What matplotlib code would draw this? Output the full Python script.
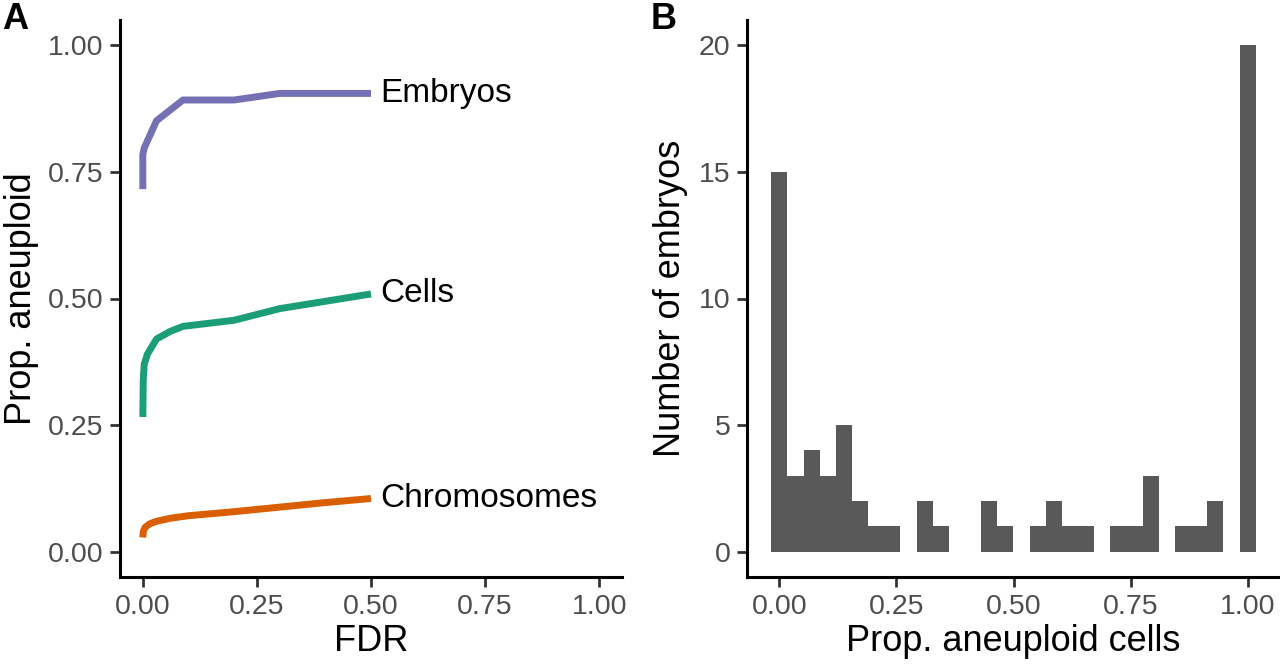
import numpy as np
import matplotlib
matplotlib.use("Agg")
import matplotlib.pyplot as plt

plt.rcParams['font.family'] = ['Liberation Sans', 'DejaVu Sans']

# panel A: proportion aneuploid vs FDR
fdr_embryos = [0.0, 0.0, 0.003, 0.03, 0.088, 0.2, 0.3, 0.5]
prop_embryos = [0.716, 0.784, 0.797, 0.851, 0.892, 0.892, 0.905, 0.905]

fdr_cells = [0.0, 0.001, 0.003, 0.01, 0.03, 0.06, 0.088, 0.2, 0.3, 0.5]
prop_cells = [0.266, 0.34, 0.37, 0.39, 0.42, 0.435, 0.445, 0.457, 0.48, 0.509]

fdr_chrom = [0.0, 0.001, 0.005, 0.015, 0.03, 0.06, 0.1, 0.2, 0.3, 0.4, 0.5]
prop_chrom = [0.028, 0.040, 0.048, 0.055, 0.060, 0.066, 0.071, 0.079, 0.088, 0.097, 0.105]

series_names = ["Embryos", "Cells", "Chromosomes"]
series_colors = ["#7570B3", "#1B9E77", "#D95F02"]

# panel B: histogram of prop. aneuploid cells (30 bins)
bin_counts = [15, 3, 4, 3, 5, 2, 1, 1, 0, 2, 1, 0, 0, 2, 1,
              0, 1, 2, 1, 1, 0, 1, 1, 3, 0, 1, 1, 2, 0, 20]

ticks01 = [0, 0.25, 0.5, 0.75, 1.0]
tick_labels01 = ["0.00", "0.25", "0.50", "0.75", "1.00"]

fig = plt.figure(figsize=(12.8, 6.67), dpi=100)
W, H = 1280, 667
axA = fig.add_axes([120 / W, 1 - 577 / H, (622 - 120) / W, (577 - 20) / H])
axB = fig.add_axes([747 / W, 1 - 577 / H, (1280 - 747) / W, (577 - 20) / H])


def style(ax):
    for s in ["top", "right"]:
        ax.spines[s].set_visible(False)
    for s in ["left", "bottom"]:
        ax.spines[s].set_linewidth(2.2)
        ax.spines[s].set_color("black")
    ax.tick_params(axis="both", length=7, width=2, color="#333333",
                   labelsize=20.5, labelcolor="#4D4D4D", pad=5)


# ---- panel A
style(axA)
xs = [fdr_embryos, fdr_cells, fdr_chrom]
ys = [prop_embryos, prop_cells, prop_chrom]
for x, y, name, col in zip(xs, ys, series_names, series_colors):
    axA.plot(x, y, color=col, lw=5, solid_capstyle="butt", solid_joinstyle="round")
    axA.text(x[-1] + 0.02, y[-1], name, fontsize=24, va="center", ha="left", color="black")
axA.set_xlim(-0.05, 1.05)
axA.set_ylim(-0.05, 1.05)
axA.set_xticks(ticks01)
axA.set_xticklabels(tick_labels01)
axA.set_yticks(ticks01)
axA.set_yticklabels(tick_labels01)
axA.set_xlabel("FDR", fontsize=26, labelpad=3)
axA.set_ylabel("Prop. aneuploid", fontsize=26, labelpad=6)

# ---- panel B
style(axB)
nb = len(bin_counts)
width = 1.0 / (nb - 1)
centers = np.arange(nb) * width
axB.bar(centers, bin_counts, width=width, color="#595959", edgecolor="none")
axB.set_xlim(-width / 2 - 0.0517, 1 + width / 2 + 0.0517)
axB.set_ylim(-1, 21)
axB.set_xticks(ticks01)
axB.set_xticklabels(tick_labels01)
axB.set_yticks([0, 5, 10, 15, 20])
axB.set_xlabel("Prop. aneuploid cells", fontsize=26, labelpad=3)
axB.set_ylabel("Number of embryos", fontsize=26, labelpad=8)

fig.text(2 / W, 1 - 2 / H, "A", fontsize=26, fontweight="bold", va="top", ha="left")
fig.text(651 / W, 1 - 2 / H, "B", fontsize=26, fontweight="bold", va="top", ha="left")

fig.savefig("out.png", dpi=100)
